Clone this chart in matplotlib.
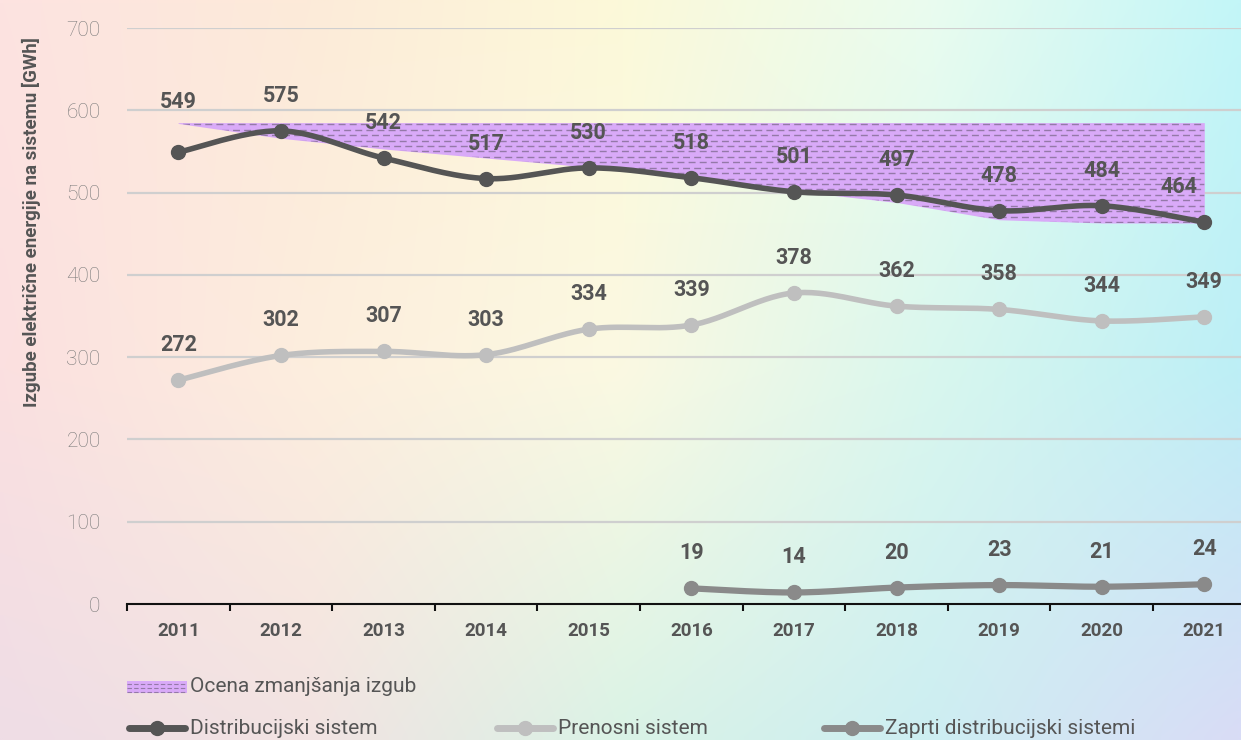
import matplotlib
matplotlib.use("Agg")
from matplotlib import pyplot as plt
from matplotlib.patches import Rectangle
from matplotlib.lines import Line2D
import numpy as np

# data
years = ["2011", "2012", "2013", "2014", "2015", "2016", "2017", "2018", "2019", "2020", "2021"]
distribucijski = [549, 575, 542, 517, 530, 518, 501, 497, 478, 484, 464]
prenosni = [272, 302, 307, 303, 334, 339, 378, 362, 358, 344, 349]
zaprti_years = ["2016", "2017", "2018", "2019", "2020", "2021"]
zaprti = [19, 14, 20, 23, 21, 24]
# estimated loss reduction band (upper and lower edge)
ocena_top = [585, 585, 585, 585, 585, 585, 585, 585, 585, 585, 585]
ocena_bottom = [584, 566, 553, 542, 531, 519, 502, 488, 467, 463, 463]

ylabel = "Izgube električne energije na sistemu [GWh]"
legend_labels = ["Ocena zmanjšanja izgub", "Distribucijski sistem", "Prenosni sistem",
                 "Zaprti distribucijski sistemi"]

C_DIST = "#555555"
C_PREN = "#bfbfbf"
C_ZAP = "#8a8a8a"
C_FILL = "#d9aaf8"
C_HATCH = "#9479a8"
TXT = "#555555"

plt.rcParams["font.family"] = ["Roboto", "DejaVu Sans"]

W, H = 1241, 740
fig = plt.figure(figsize=(W / 100, H / 100), dpi=100)


def px(x, y):
    return x / W, 1 - y / H


# background gradient
grid = np.array([
    [[253, 227, 225], [253, 235, 217], [252, 249, 217], [234, 252, 239], [195, 246, 248]],
    [[251, 224, 224], [253, 238, 222], [251, 249, 226], [217, 247, 238], [189, 239, 246]],
    [[239, 221, 230], [242, 227, 226], [218, 243, 230], [205, 238, 242], [217, 220, 246]],
], dtype=float) / 255
gy = np.linspace(0, 1, 120)
gx = np.linspace(0, 1, 200)
ry = gy * (grid.shape[0] - 1)
rx = gx * (grid.shape[1] - 1)
y0 = np.clip(np.floor(ry).astype(int), 0, grid.shape[0] - 2)
x0 = np.clip(np.floor(rx).astype(int), 0, grid.shape[1] - 2)
fy = (ry - y0)[:, None, None]
fx = (rx - x0)[None, :, None]
bg = (grid[y0][:, x0] * (1 - fy) * (1 - fx) + grid[y0 + 1][:, x0] * fy * (1 - fx)
      + grid[y0][:, x0 + 1] * (1 - fy) * fx + grid[y0 + 1][:, x0 + 1] * fy * fx)
bg_ax = fig.add_axes([0, 0, 1, 1], zorder=-10)
bg_ax.imshow(bg, aspect="auto", interpolation="bilinear", extent=[0, 1, 0, 1])
bg_ax.axis("off")

left = 127 / W
width = 11 * 102.6 / W
bottom = (H - 604) / H
height = 576 / H
ax = fig.add_axes([left, bottom, width, height])
ax.patch.set_visible(False)
ax.set_xlim(-0.5, 10.5)
ax.set_ylim(0, 700)


def smooth(xv, yv, n=30):
    # Excel-like smoothed line (cubic bezier, catmull-rom control points)
    pts = np.column_stack([xv, yv]).astype(float)
    ext = np.vstack([pts[0], pts, pts[-1]])
    out = []
    for i in range(len(pts) - 1):
        p0, p1, p2, p3 = ext[i], ext[i + 1], ext[i + 2], ext[i + 3]
        c1 = p1 + (p2 - p0) / 6
        c2 = p2 - (p3 - p1) / 6
        t = np.linspace(0, 1, n)[:, None]
        seg = ((1 - t) ** 3) * p1 + 3 * ((1 - t) ** 2) * t * c1 + 3 * (1 - t) * t ** 2 * c2 + t ** 3 * p2
        out.append(seg if i == 0 else seg[1:])
    s = np.vstack(out)
    return s[:, 0], s[:, 1]


x = np.arange(len(years))
xz = np.array([years.index(yr) for yr in zaprti_years])

# grid
for v in range(100, 701, 100):
    ax.axhline(v, color="#cfcfcf", lw=1.6, zorder=1)

# estimated reduction band with dashed hatch
poly = ax.fill_between(x, ocena_bottom, ocena_top, color=C_FILL, lw=0, zorder=2)
clip = poly.get_paths()[0]
for k, hy in enumerate(np.arange(583, 455, -6.6)):
    ln, = ax.plot([-0.5, 10.5], [hy, hy], color=C_HATCH, lw=1.0,
                  ls=(4 if k % 2 else 0, (5, 3)), zorder=3)
    ln.set_clip_path(clip, transform=ax.transData)

# series
series = [
    (x, distribucijski, C_DIST, 4.0, 10),
    (x, prenosni, C_PREN, 4.0, 10),
    (xz, zaprti, C_ZAP, 4.5, 10),
]
for xs, ys, col, lw, ms in series:
    sx, sy = smooth(xs, ys)
    ax.plot(sx, sy, color=col, lw=lw, solid_capstyle="round", zorder=5)
    ax.plot(xs, ys, "o", color=col, ms=ms, zorder=6)
    for xi, yi in zip(xs, ys):
        dx = -25 if (ys is distribucijski and xi == 10) else 0
        dy = 39 if (ys is distribucijski and xi == 0) else 24
        ax.annotate(str(yi), (xi, yi), xytext=(dx * 0.72, dy * 0.72), textcoords="offset points",
                    ha="center", va="bottom", fontsize=15.5, fontweight="bold", color=TXT, zorder=7)

# axes styling
for s in ["left", "right", "top"]:
    ax.spines[s].set_visible(False)
ax.spines["bottom"].set_color("#111111")
ax.spines["bottom"].set_linewidth(1.5)
ax.spines["bottom"].set_zorder(4)
ax.set_xticks(np.arange(-0.5, 11, 1))
ax.set_xticklabels([])
ax.set_xticks(x, minor=True)
ax.set_xticklabels(years, minor=True, fontsize=13.5, fontweight="bold", color=TXT)
ax.tick_params(axis="x", which="major", length=5, width=1.5, color="#111111", direction="out")
ax.tick_params(axis="x", which="minor", length=0, pad=13)
ax.set_yticks(range(0, 701, 100))
ax.set_yticklabels([str(v) for v in range(0, 701, 100)], fontsize=15, fontweight="light", color="#7a7a7a")
ax.tick_params(axis="y", length=0, pad=19)

fx_, fy_ = px(31, 222)
fig.text(fx_, fy_, ylabel, rotation=90, ha="center", va="center", fontsize=13.5,
         fontweight="bold", color=TXT)

# legend
rx0, ry0 = px(127, 693)
rx1, ry1 = px(187, 681)
rect = Rectangle((rx0, ry0), rx1 - rx0, ry1 - ry0, transform=fig.transFigure,
                 facecolor=C_FILL, edgecolor="none")
fig.patches.append(rect)
for hyp in [683.5, 687.5, 691.5]:
    a, b = px(127, hyp)
    c, _ = px(187, hyp)
    fig.add_artist(Line2D([a, c], [b, b], color=C_HATCH, lw=0.8, ls=(0, (4, 2)),
                          transform=fig.transFigure))
tx, ty = px(190, 687)
fig.text(tx, ty, legend_labels[0], ha="left", va="center", fontsize=15, color=TXT)

for (hx, col), lab in zip([(127, C_DIST), (495, C_PREN), (822, C_ZAP)], legend_labels[1:]):
    a, b = px(hx + 2, 728)
    c, _ = px(hx + 58, 728)
    m, _ = px(hx + 30, 728)
    fig.add_artist(Line2D([a, c], [b, b], color=col, lw=5, solid_capstyle="round",
                          transform=fig.transFigure))
    fig.add_artist(Line2D([m], [b], marker="o", ms=10, color=col, transform=fig.transFigure))
    tx, ty = px(hx + 63, 728)
    fig.text(tx, ty, lab, ha="left", va="center", fontsize=15, color=TXT)

fig.savefig("out.png", dpi=100)
